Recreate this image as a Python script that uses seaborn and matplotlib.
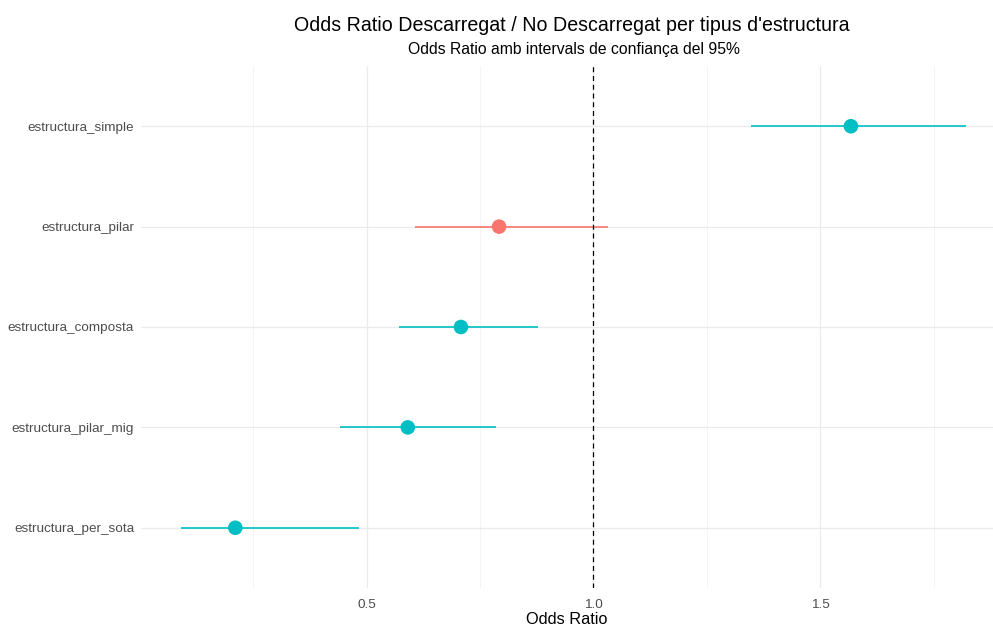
import pandas as pd
import matplotlib.pyplot as plt
import seaborn as sns

# data (top to bottom as shown)
estructures = ["estructura_simple", "estructura_pilar", "estructura_composta",
               "estructura_pilar_mig", "estructura_per_sota"]
odds_ratio = [1.567, 0.792, 0.708, 0.591, 0.211]
ci_low = [1.346, 0.607, 0.572, 0.442, 0.091]
ci_high = [1.820, 1.033, 0.878, 0.785, 0.483]
significatiu = ["Sí", "No", "Sí", "Sí", "Sí"]

df = pd.DataFrame({"estructura": estructures, "OR": odds_ratio,
                   "low": ci_low, "high": ci_high, "sig": significatiu})
colors = {"No": "#F8766D", "Sí": "#00BFC4"}

sns.set_theme(style="whitegrid")
plt.rcParams["font.family"] = ["Liberation Sans", "DejaVu Sans"]

fig = plt.figure(figsize=(9.93, 6.28), dpi=100)
ax = fig.add_axes([0.142, 0.0637, 0.858, 0.8312])

sns.scatterplot(data=df, x="OR", y="estructura", hue="sig", palette=colors,
                s=110, edgecolor="none", legend=False, ax=ax, zorder=3)
ax.hlines(df["estructura"], df["low"], df["high"],
          colors=df["sig"].map(colors).tolist(), lw=1.2, zorder=2)
ax.axvline(1, color="black", lw=0.9, ls=(0, (4, 3)), zorder=2)

ax.set_ylim(len(df) - 0.4, -0.6)
ax.set_xlim(0.0033, 1.880)
ax.set_xticks([0.5, 1.0, 1.5])
ax.set_xticklabels(["0.5", "1.0", "1.5"])
ax.set_xticks([0.25, 0.75, 1.25, 1.75], minor=True)
ax.grid(True, which="major", color="#EBEBEB", lw=0.9)
ax.grid(True, which="minor", axis="x", color="#F2F2F2", lw=0.6)
ax.set_axisbelow(True)
for sp in ax.spines.values():
    sp.set_visible(False)
ax.set_facecolor("white")
ax.tick_params(axis="y", which="both", length=0, labelsize=9.7, labelcolor="#4D4D4D", pad=5)
ax.tick_params(axis="x", which="both", length=0, labelsize=9.7, labelcolor="#4D4D4D", pad=8)

ax.set_xlabel("Odds Ratio", fontsize=11.7, color="black", labelpad=1)
ax.set_ylabel("")
fig.text(0.576, 0.959, "Odds Ratio Descarregat / No Descarregat per tipus d'estructura",
         ha="center", va="center", fontsize=14.1, color="black")
fig.text(0.578, 0.921, "Odds Ratio amb intervals de confiança del 95%",
         ha="center", va="center", fontsize=11.3, color="black")

fig.savefig("out.png", dpi=100, facecolor="white")
